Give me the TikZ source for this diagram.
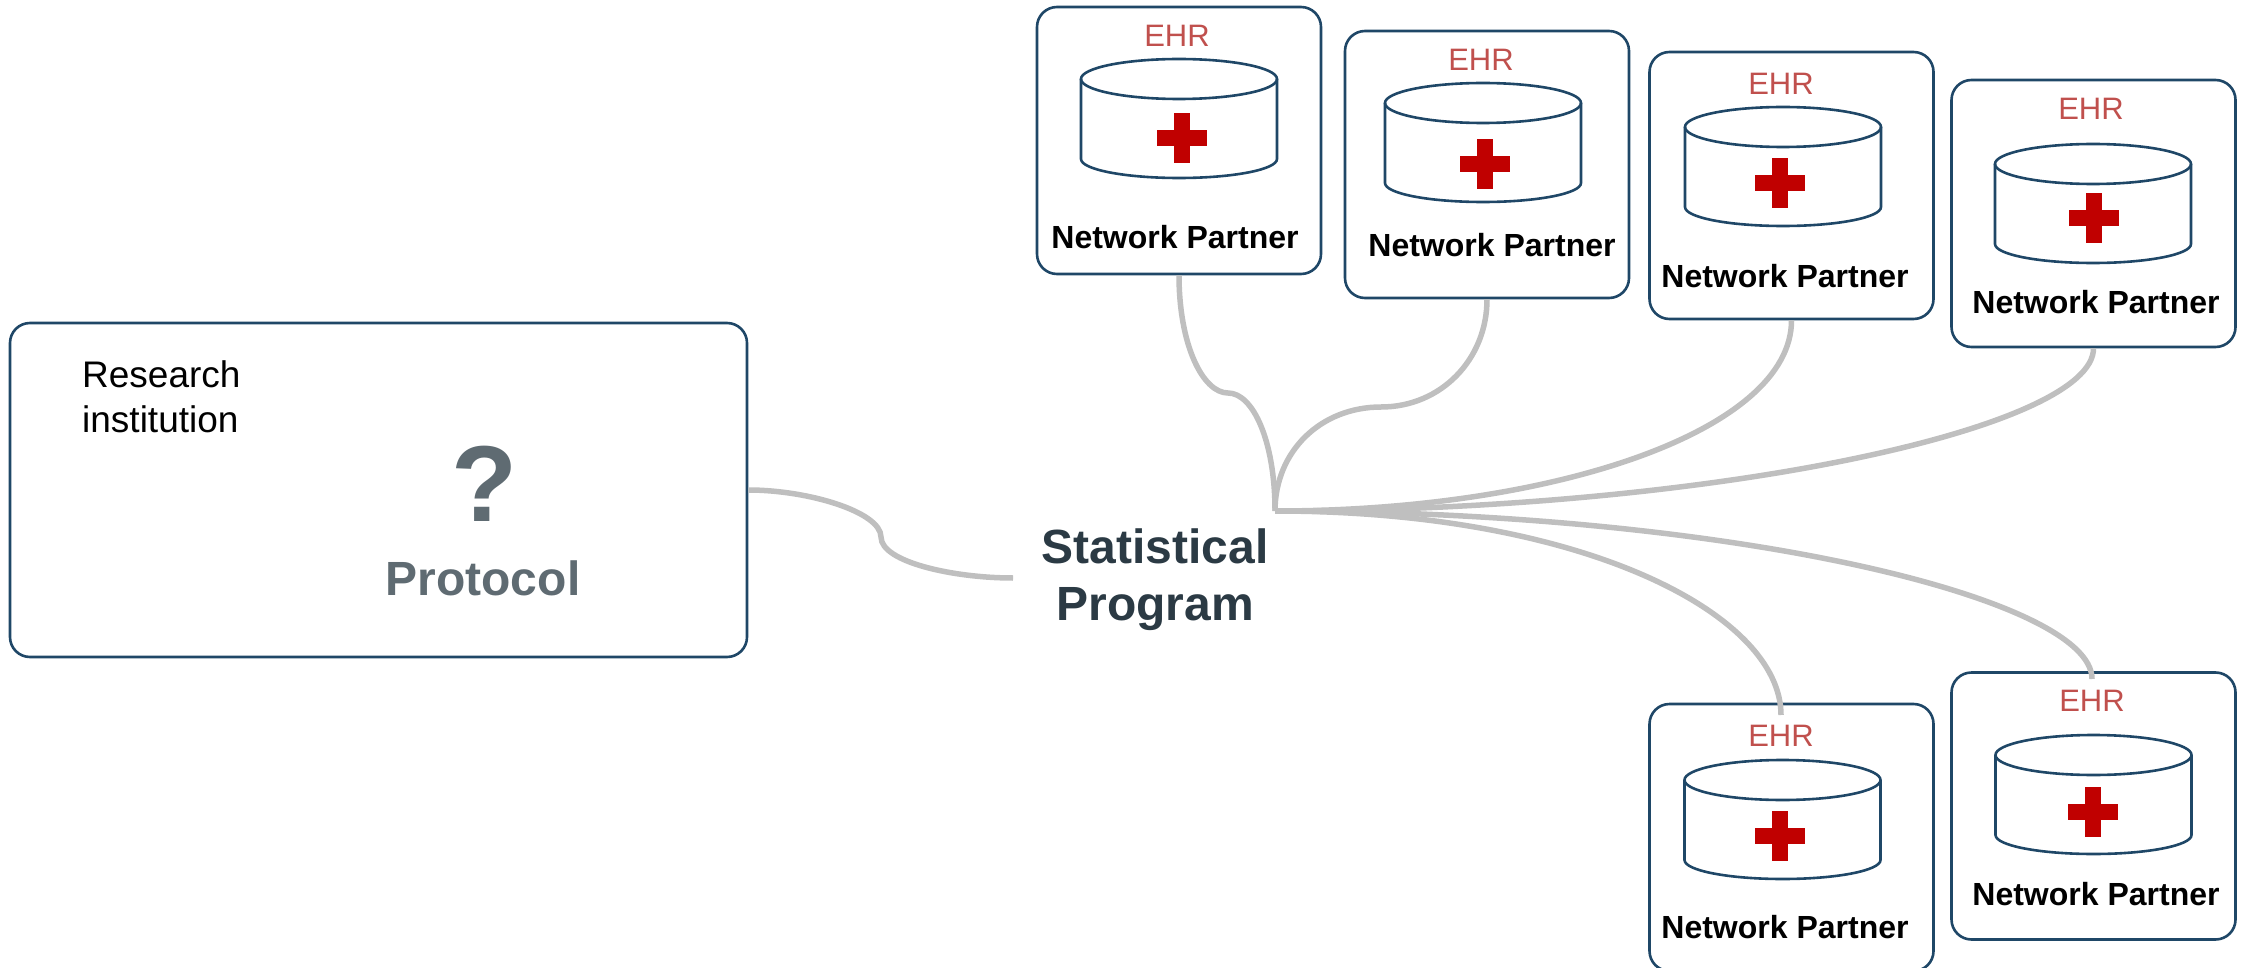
\documentclass[tikz,border=0pt]{standalone}
\usepackage{fontspec}
\setmainfont{Liberation Sans}
\usepackage{xcolor}
\definecolor{boxline}{HTML}{1F4767}
\definecolor{ehrred}{HTML}{C0504D}
\definecolor{crossred}{HTML}{C00000}
\definecolor{linkgray}{HTML}{BFBFBF}
\definecolor{protogray}{HTML}{5F6B72}
\definecolor{progdark}{HTML}{2B3A44}
\tikzset{
	partnerbox/.style={draw=boxline,line width=2.6pt,rounded corners=20pt,minimum width=284pt,minimum height=267pt,inner sep=0pt},
	ehrlabel/.style={text=ehrred,inner sep=0pt,font=\fontsize{31}{36}\selectfont},
	partnerlabel/.style={inner sep=0pt,font=\fontsize{32}{38}\selectfont\bfseries},
	link/.style={draw=linkgray,line width=5.5pt},
	dbicon/.pic={
		\draw[boxline,line width=2.6pt] (-98,0) -- (-98,80) arc[start angle=180,end angle=360,x radius=98,y radius=-19] -- (98,0);
		\draw[boxline,line width=2.6pt] (0,0) ellipse[x radius=98,y radius=20];
	},
	redcross/.pic={
		\fill[crossred] (-8,-25) rectangle (8,25);
		\fill[crossred] (-25,-8) rectangle (25,8);
	}
}
\begin{document}
\begin{tikzpicture}[x=1pt,y=-1pt]
	\useasboundingbox (0,0) rectangle (2246,968);
	%research institution
	\node[draw=boxline,line width=2.6pt,rounded corners=20pt,minimum width=737pt,minimum height=334pt,inner sep=0pt] (research) at (378.5,490) {};
	\node[anchor=west,align=left,inner sep=0pt,font=\fontsize{37}{45}\selectfont] (resname) at (82,397) {Research\\institution};
	\node[text=protogray,inner sep=0pt,font=\fontsize{108}{120}\selectfont\bfseries] (question) at (484,484) {?};
	\node[text=protogray,inner sep=0pt,font=\fontsize{48}{56}\selectfont\bfseries] (protocol) at (483,578) {Protocol};
	\node[text=progdark,align=center,inner sep=0pt,font=\fontsize{48}{57}\selectfont\bfseries] (program) at (1155,580) {Statistical\\Program};
	%partner boxes
	\node[partnerbox] (partnerA) at (1179,140.5) {};
	\node[partnerbox] (partnerB) at (1487,164.5) {};
	\node[partnerbox] (partnerC) at (1791.5,185.5) {};
	\node[partnerbox] (partnerD) at (2093.5,213.5) {};
	\node[partnerbox] (partnerE) at (1791.5,837.5) {};
	\node[partnerbox] (partnerF) at (2093.5,806) {};
	%EHR
	\node[ehrlabel] (ehrA) at (1177,36) {EHR};
	\node[ehrlabel] (ehrB) at (1481,60) {EHR};
	\node[ehrlabel] (ehrC) at (1781,84) {EHR};
	\node[ehrlabel] (ehrD) at (2091,109) {EHR};
	\node[ehrlabel] (ehrE) at (1781,736) {EHR};
	\node[ehrlabel] (ehrF) at (2092,701) {EHR};
	%cylinders
	\pic at (1179,79) {dbicon};
	\pic at (1483,103) {dbicon};
	\pic at (1783,127) {dbicon};
	\pic at (2093,164) {dbicon};
	\pic at (1782.5,780) {dbicon};
	\pic at (2093.5,755) {dbicon};
	%crosses
	\pic at (1182,138) {redcross};
	\pic at (1485,164) {redcross};
	\pic at (1779.5,183) {redcross};
	\pic at (2093.5,218) {redcross};
	\pic at (1780,836) {redcross};
	\pic at (2093,812) {redcross};
	%partner names
	\node[partnerlabel] (nameA) at (1175,237) {Network Partner};
	\node[partnerlabel] (nameB) at (1492,245) {Network Partner};
	\node[partnerlabel] (nameC) at (1785,276) {Network Partner};
	\node[partnerlabel] (nameD) at (2096,302) {Network Partner};
	\node[partnerlabel] (nameE) at (1785,927) {Network Partner};
	\node[partnerlabel] (nameF) at (2096,894) {Network Partner};
	%links
	\coordinate (hub) at (1275,511);
	\coordinate (kinkA) at (1228,393);
	\coordinate (kinkB) at (1381,407);
	\coordinate (kinkL) at (881,537);
	\coordinate (proglink) at (1013,578);
	\coordinate (topE) at (1781,715);
	\coordinate (topF) at (2092,679);
	\draw[link] (partnerA.south) .. controls +(0,70) and +(-25,0) .. (kinkA) .. controls +(25,0) and +(0,-70) .. (hub);
	\draw[link] (partnerB.south) .. controls +(0,60) and +(60,0) .. (kinkB) .. controls +(-60,0) and +(0,-60) .. (hub);
	\draw[link] (partnerC.south) .. controls +(0,110) and +(280,0) .. (hub);
	\draw[link] (partnerD.south) .. controls +(0,80) and +(440,0) .. (hub);
	\draw[link] (hub) .. controls +(310,0) and +(0,-100) .. (topE);
	\draw[link] (hub) .. controls +(460,0) and +(0,-80) .. (topF);
	\draw[link] (research.east) .. controls +(60,0) and +(0,-25) .. (kinkL) .. controls +(0,25) and +(-60,0) .. (proglink);
\end{tikzpicture}
\end{document}
